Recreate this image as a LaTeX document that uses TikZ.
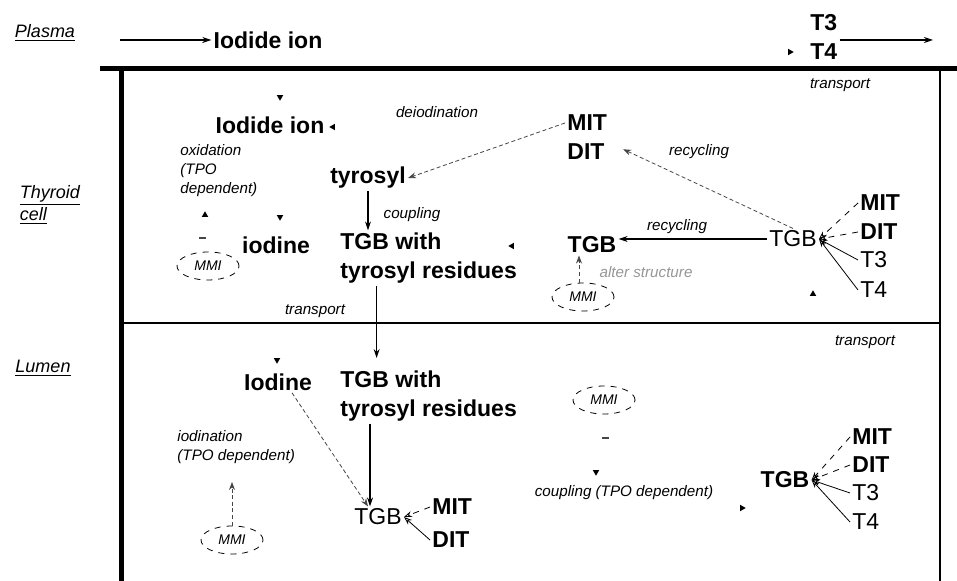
\documentclass[tikz,border=0pt]{standalone}
\usepackage{fontspec}
\setmainfont{Liberation Sans}
\usetikzlibrary{shapes.geometric, arrows.meta, positioning}
\definecolor{faintgray}{RGB}{70,70,70}
\definecolor{softgray}{RGB}{150,150,150}

\begin{document}
\begin{tikzpicture}[
  x=0.5pt, y=-0.5pt,
  every node/.style = {inner sep=1pt},
  big/.style  = {font=\fontsize{11.5}{14.5}\selectfont\bfseries, align=left},
  bigr/.style = {font=\fontsize{11.5}{14.5}\selectfont, align=left},
  cmt/.style  = {font=\fontsize{7.6}{9.5}\selectfont\itshape, align=left},
  region/.style = {font=\fontsize{9}{8.5}\selectfont\itshape, align=left},
  mmi/.style  = {ellipse, draw, dashed, thin, minimum width=31pt, minimum height=14pt,
                 font=\fontsize{7}{8}\selectfont\itshape},
  tipmark/.style = {isosceles triangle, isosceles triangle apex angle=60, fill=black,
                    inner sep=0pt, minimum height=2.8pt, shape border rotate=#1},
  dashmark/.style = {rectangle, fill=faintgray, inner sep=0pt, minimum width=3.5pt, minimum height=1pt},
  arr/.style  = {-{Stealth[length=4.5pt, width=3pt]}, semithick},
  darr/.style = {-{Stealth[length=4pt, width=3pt]}, thin, dash pattern=on 2pt off 1.3pt, faintgray},
  fan/.style  = {-{Stealth[length=4pt, width=3pt, open]}, thin},
  wall/.style = {line width=2.5pt},
  sep/.style  = {line width=1.1pt}
]
\useasboundingbox (0,0) rectangle (957,581);

%% compartments
\coordinate (ptop)  at (100,69);
\coordinate (pend)  at (957,69);
\coordinate (ltop)  at (121,69);
\coordinate (lbot)  at (121,581);
\coordinate (rtop)  at (940,69);
\coordinate (rbot)  at (940,581);
\coordinate (mleft) at (121,323);
\coordinate (mright) at (940,323);
\draw[wall] (ptop) -- (pend);
\draw[wall] (ltop) -- (lbot);
\draw[sep]  (rtop) -- (rbot);
\draw[sep]  (mleft) -- (mright);

\node[region] (plasma) at (45,33)  {\underline{Plasma}};
\node[region] (cell)   at (50,205) {\underline{Thyroid}\\\underline{cell}};
\node[region] (lumen)  at (43,368) {\underline{Lumen}};

%% plasma
\coordinate (pin)  at (120,40);
\coordinate (pout) at (933,40);
\node[big] (iodP) at (268,40) {Iodide ion};
\node[big, anchor=west] (hormP) at (808,37) {T3\\T4};
\node[tipmark=0] (hd0) at (790,52) {};
\node[cmt] (trTop) at (840,85) {transport};
\draw[arr] (pin) -- (iodP);
\draw[arr] (hormP.east |- pout) -- (pout);

%% thyroid cell
\node[tipmark=270] (hd1) at (280,97) {};
\node[big] (iodC) at (270,125) {Iodide ion};
\node[tipmark=180] (hd2) at (333,127) {};
\node[cmt] (deio) at (437,112) {deiodination};
\node[big, anchor=west] (mit1) at (565,123) {MIT};
\node[big, anchor=west] (dit1) at (565,152) {DIT};
\node[big] (tyr) at (368,178) {tyrosyl};
\node[cmt, anchor=west] (oxid) at (178,171) {oxidation\\(TPO\\dependent)};
\node[tipmark=90]  (hd3) at (205,215) {};
\node[tipmark=270] (hd4) at (280,217) {};
\node[dashmark] (dm1) at (202,238) {};
\node[mmi] (mmi1) at (208,266) {MMI};
\node[big] (iodn) at (276,245) {iodine};
\node[big, anchor=west] (twC) at (338,258) {TGB with\\tyrosyl residues};
\node[cmt] (coup) at (412,215) {coupling};
\node[tipmark=180] (hd5) at (512,246) {};
\node[big] (tgbR) at (592,245) {TGB};
\node[bigr] (tgbF) at (793,239) {TGB};
\node[cmt] (recyc1) at (677,227) {recycling};
\node[cmt] (recyc2) at (699,152) {recycling};
\node[big,  anchor=west] (mitF) at (858,203) {MIT};
\node[big,  anchor=west] (ditF) at (858,232) {DIT};
\node[bigr, anchor=west] (t3F)  at (858,260) {T3};
\node[bigr, anchor=west] (t4F)  at (858,290) {T4};
\node[tipmark=90] (hd6) at (813,294) {};
\node[cmt, softgray] (alter) at (646,272) {alter structure};
\node[mmi] (mmi2) at (583,297) {MMI};
\node[cmt] (trMid) at (315,311) {transport};

\draw[darr] (mit1.west) -- (tyr.east);
\draw[arr] (tyr.south) -- (tyr.south |- twC.north);
\draw[arr] (tgbF.west) -- (tgbF.west -| tgbR.east);
\draw[darr, shorten >=9pt] (tgbF.north) -- (dit1.north east);
\draw[fan, dashed] (mitF.west) -- (tgbF.east);
\draw[fan, dashed] (ditF.west) -- (tgbF.east);
\draw[fan] (t3F.west) -- (tgbF.east);
\draw[fan] (t4F.west) -- (tgbF.east);
\draw[darr] ([xshift=-2pt]mmi2.north) -- ([xshift=-2pt]mmi2.north |- tgbR.south);
\draw[arr] ([xshift=-26pt]twC.south) -- ([xshift=-26pt]twC.south |- 0,358);

%% lumen
\node[cmt] (trLow) at (865,342) {transport};
\node[tipmark=270] (hd7) at (277,360) {};
\node[big] (iodL) at (278,382) {Iodine};
\node[big, anchor=west] (twL) at (338,396) {TGB with\\tyrosyl residues};
\node[cmt, anchor=west] (iodi) at (175,447) {iodination\\(TPO dependent)};
\node[mmi] (mmi3) at (232,540) {MMI};
\node[bigr] (tgbL) at (378,517) {TGB};
\node[big, anchor=west] (mitL) at (430,507) {MIT};
\node[big, anchor=west] (ditL) at (430,540) {DIT};
\node[mmi] (mmi4) at (604,400) {MMI};
\node[dashmark] (dm2) at (605,438) {};
\node[tipmark=270] (hd8) at (596,472) {};
\node[cmt] (coupL) at (624,493) {coupling (TPO dependent)};
\node[tipmark=0] (hd9) at (742,508) {};
\node[big] (tgbL2) at (785,480) {TGB};
\node[big,  anchor=west] (mitL2) at (850,437) {MIT};
\node[big,  anchor=west] (ditL2) at (850,465) {DIT};
\node[bigr, anchor=west] (t3L2)  at (850,493) {T3};
\node[bigr, anchor=west] (t4L2)  at (850,522) {T4};

\draw[darr] ([xshift=7pt]iodL.south) -- ([xshift=-5pt]tgbL.north);
\draw[arr] ([xshift=-4pt]twL.south -| tgbL.north) -- ([xshift=-4pt]tgbL.north);
\draw[darr, shorten >=8pt] (mmi3.north) -- (mmi3.north |- iodi.south);
\draw[fan, dashed] (mitL.west) -- (tgbL.east);
\draw[fan] (ditL.west) -- (tgbL.east);
\draw[fan, dashed] (mitL2.west) -- (tgbL2.east);
\draw[fan, dashed] (ditL2.west) -- (tgbL2.east);
\draw[fan] (t3L2.west) -- (tgbL2.east);
\draw[fan] (t4L2.west) -- (tgbL2.east);
\end{tikzpicture}
\end{document}
